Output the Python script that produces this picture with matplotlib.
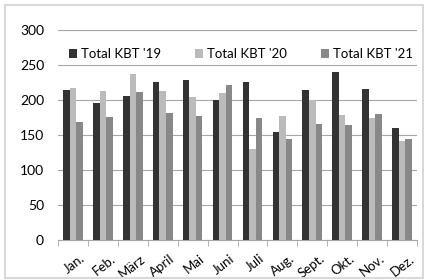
import matplotlib.pyplot as plt
import numpy as np
from matplotlib.patches import Rectangle
from matplotlib.transforms import ScaledTranslation

months = ["Jan.", "Feb.", "März", "April", "Mai", "Juni", "Juli", "Aug.", "Sept.", "Okt.", "Nov.", "Dez."]
kbt_19 = [214, 196, 206, 225, 229, 200, 226, 154, 214, 240, 215, 160]
kbt_20 = [217, 213, 237, 213, 204, 210, 130, 177, 200, 179, 174, 141]
kbt_21 = [168, 176, 211, 182, 177, 221, 174, 145, 166, 164, 180, 145]
series_names = ["Total KBT '19", "Total KBT '20", "Total KBT '21"]
colors = ["#333333", "#bbbbbb", "#888888"]

plt.rcParams['font.family'] = ['Lato', 'DejaVu Sans']

fig = plt.figure(figsize=(4.27, 2.80), dpi=100)
ax = fig.add_axes([58 / 427, 1 - 240 / 280, 359 / 427, 210 / 280])

# outer chart frame
fig.patches.append(Rectangle((5 / 427, 2 / 280), 418 / 427, 273 / 280, transform=fig.transFigure,
                             fill=False, edgecolor="#d9d9d9", linewidth=1.5))

x = np.arange(len(months))
w = 0.22
for i, (vals, name) in enumerate(zip([kbt_19, kbt_20, kbt_21], series_names)):
    ax.bar(x + (i - 1) * w, vals, w, color=colors[i], label=name, zorder=3)

ax.set_xlim(-0.5, len(months) - 0.5)
ax.set_ylim(0, 300)
ax.set_yticks(range(0, 301, 50))
ax.grid(axis="y", color="#a6a6a6", linewidth=0.8, zorder=0)
for s in ["left", "right", "top"]:
    ax.spines[s].set_visible(False)
ax.spines["bottom"].set_color("#a6a6a6")
ax.tick_params(axis="y", length=0, labelsize=10, pad=10)

ax.set_xticks(x)
ax.set_xticklabels(months, rotation=38, fontsize=9.5, ha="right", rotation_mode="anchor")
ax.tick_params(axis="x", which="major", length=0, pad=9)
offset = ScaledTranslation(7 / 100, 0, fig.dpi_scale_trans)
for lbl in ax.get_xticklabels():
    lbl.set_transform(lbl.get_transform() + offset)
ax.set_xticks(np.arange(-0.5, len(months)), minor=True)
ax.tick_params(axis="x", which="minor", length=4, color="#a6a6a6")

ax.legend(loc="upper center", bbox_to_anchor=(0.51, 0.97), ncol=3, frameon=False, fontsize=9.5,
          handlelength=0.6, handleheight=0.6, handletextpad=0.3, columnspacing=2.6)

fig.savefig("out.png", dpi=100)
